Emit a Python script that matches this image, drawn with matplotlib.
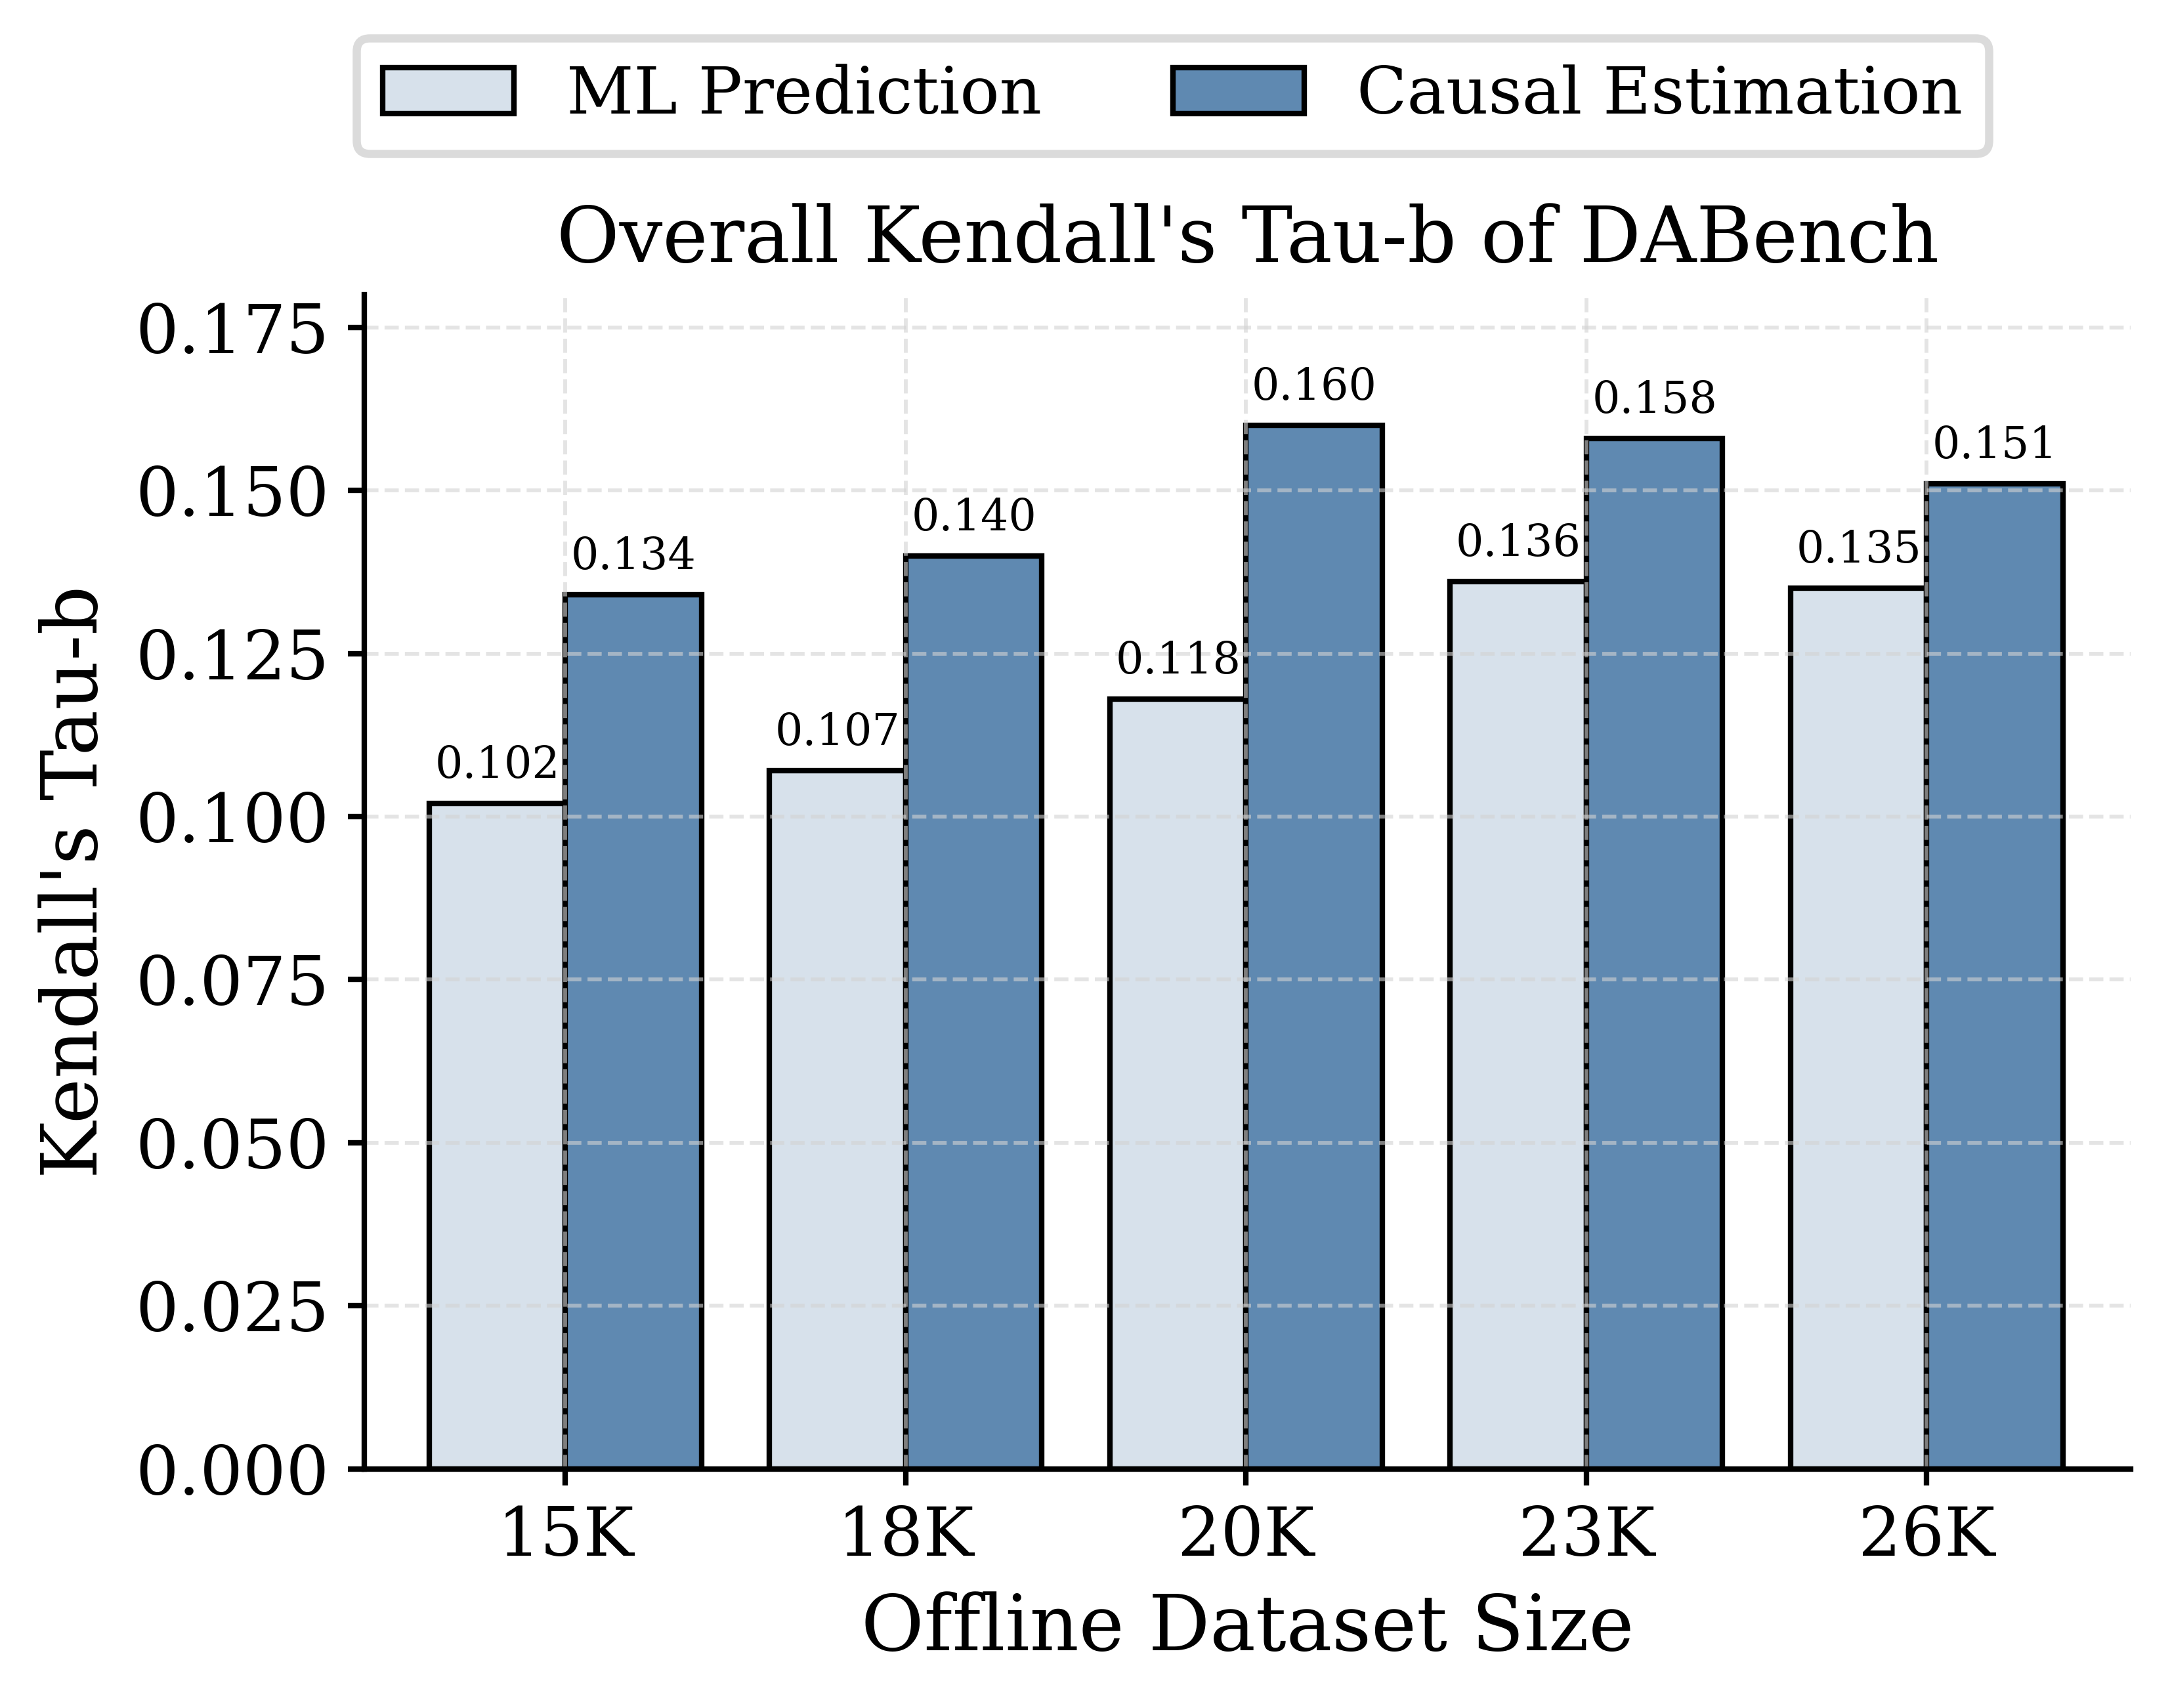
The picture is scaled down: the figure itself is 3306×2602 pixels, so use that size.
import numpy as np
import matplotlib
matplotlib.use('Agg')
import matplotlib.pyplot as plt

plt.rcParams['font.family'] = 'serif'
plt.rcParams['font.serif'] = ['DejaVu Serif']

sizes = ['15K', '18K', '20K', '23K', '26K']
ml_pred = [0.102, 0.107, 0.118, 0.136, 0.135]
causal_est = [0.134, 0.140, 0.160, 0.158, 0.151]

x = np.arange(len(sizes))
bar_width = 0.4

fig = plt.figure(figsize=(3306 / 600, 2602 / 600), dpi=600)
ax = fig.add_axes([0.168, 0.140, 0.982 - 0.168, 0.8274 - 0.140])

b1 = ax.bar(x - bar_width / 2, ml_pred, bar_width, color='#d7e1eb',
            edgecolor='black', linewidth=1.0, label='ML Prediction')
b2 = ax.bar(x + bar_width / 2, causal_est, bar_width, color='#5f89b1',
            edgecolor='black', linewidth=1.0, label='Causal Estimation')

# value labels on top of each bar
for bars in (b1, b2):
    for rect in bars:
        h = rect.get_height()
        ax.annotate('%.3f' % h, xy=(rect.get_x() + rect.get_width() / 2, h),
                    xytext=(0, 3), textcoords='offset points',
                    ha='center', va='bottom', fontsize=8)

ax.set_xlim(-0.59, 4.6)
ax.set_ylim(0, 0.18)
ax.set_xticks(x)
ax.set_xticklabels(sizes)
ax.tick_params(labelsize=12.4, width=1.0, length=3)
ax.set_xlabel('Offline Dataset Size', fontsize=14)
ax.set_ylabel("Kendall's Tau-b", fontsize=14)
ax.set_title("Overall Kendall's Tau-b of DABench", fontsize=14)
ax.grid(True, linestyle='--', color='lightgray', alpha=0.6, linewidth=0.7)
ax.spines['top'].set_visible(False)
ax.spines['right'].set_visible(False)
ax.spines['left'].set_linewidth(1.0)
ax.spines['bottom'].set_linewidth(1.0)

leg = fig.legend(handles=[b1, b2], loc='center', bbox_to_anchor=(0.5405, 0.944),
                 ncol=2, fontsize=12, frameon=True, fancybox=True)
leg.get_frame().set_edgecolor('#d3d3d3')
leg.get_frame().set_linewidth(1.5)

fig.savefig('out.png', dpi=600)
